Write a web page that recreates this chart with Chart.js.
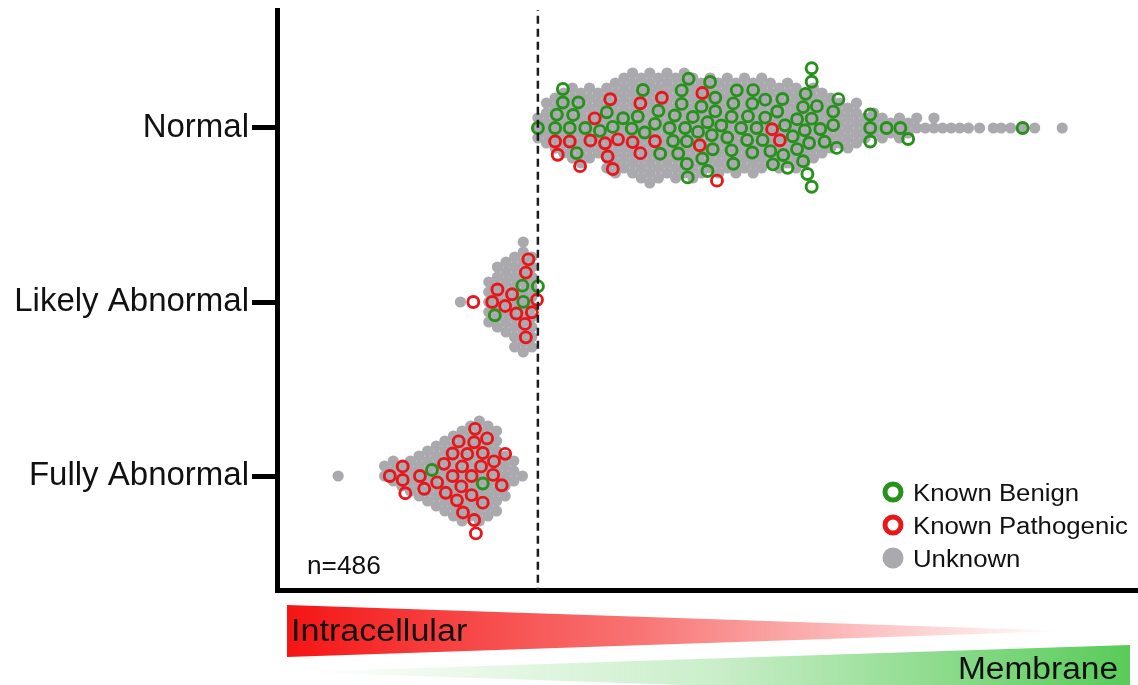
<!DOCTYPE html>
<html>
<head>
<meta charset="utf-8">
<script src="https://cdn.jsdelivr.net/npm/chart.js@4.4.1/dist/chart.umd.min.js"></script>
<style>
  html, body { margin: 0; padding: 0; background: #fff; }
</style>
</head>
<body>
<canvas id="chart" width="1138" height="685"></canvas>
<script>
const categories = ['Normal', 'Likely Abnormal', 'Fully Abnormal'];

// localisation score of each known variant (0 = intracellular, 100 = membrane)
const normalBenign = [30.3, 32.3, 32.5, 33.2, 33.2, 34.0, 34.4, 34.8, 35.0, 35.8, 37.5, 38.3, 39.0, 40.2,
  41.2, 41.9, 42.5, 42.7, 43.9, 44.3, 44.5, 45.6, 46.0, 46.2, 46.6, 47.0, 47.0, 47.4, 47.6, 47.6, 47.7,
  47.8, 48.3, 48.9, 49.3, 49.4, 50.0, 50.0, 50.3, 50.5, 50.6, 50.9, 50.9, 51.6, 52.3, 52.8, 52.8, 53.0,
  53.0, 53.4, 53.9, 54.6, 54.7, 55.2, 55.2, 55.3, 55.7, 56.4, 56.7, 56.7, 57.3, 57.6, 58.1, 58.7, 58.8,
  59.0, 59.3, 59.9, 60.4, 60.4, 61.1, 61.1, 61.3, 61.4, 61.6, 61.8, 62.1, 62.1, 62.1, 62.1, 62.7, 63.1,
  63.6, 64.6, 64.6, 65.0, 65.2, 68.9, 68.9, 68.9, 70.8, 72.4, 73.3, 86.6];
const normalPathogenic = [32.3, 32.6, 34.0, 35.2, 36.4, 36.9, 38.1, 38.4, 38.7, 39.0, 39.6, 41.3, 42.2,
  42.2, 43.9, 44.7, 49.1, 49.4, 51.1, 57.5, 58.4];
const likelyBenign = [25.3, 28.5, 28.6, 30.3];
const likelyPathogenic = [22.8, 25.0, 25.6, 26.5, 27.3, 27.8, 28.8, 28.9, 28.9, 29.2, 29.6, 30.2];
const fullyBenign = [18.0, 23.9];
const fullyPathogenic = [13.1, 14.6, 14.6, 14.9, 16.6, 17.1, 18.6, 19.4, 19.6, 20.4, 20.4, 20.9, 21.1,
  21.4, 21.5, 21.6, 22.1, 22.6, 22.6, 22.9, 22.9, 23.0, 23.1, 23.7, 23.9, 23.9, 24.4, 25.1, 25.2, 26.1, 26.5];

// unknown variants: number of variants per score bin, plus lone outliers
const binWidth = 1;
const normalUnknownStart = 30.3;
const normalUnknownCounts = [3, 5, 6, 7, 8, 8, 8, 7, 9, 10, 10, 11, 11, 12, 11, 11, 11, 11, 11, 10, 10, 10,
  10, 10, 10, 10, 10, 9, 9, 9, 9, 8, 8, 7, 6, 5, 5, 5, 3, 3, 3, 2, 3, 2, 2, 1, 2, 1, 1, 1, 1];
const normalUnknownTail = [81.6, 83.2, 84.1, 85.2, 86.6, 88.0, 91.2];
const likelyUnknownStart = 24.6;
const likelyUnknownCounts = [5, 7, 8, 10, 12, 10];
const likelyUnknownTail = [21.3];
const fullyUnknownStart = 12.5;
const fullyUnknownCounts = [2, 3, 3, 4, 5, 6, 7, 8, 9, 10, 10, 11, 10, 9, 5, 3, 1];
const fullyUnknownTail = [7.1];

const threshold = 30.3;
const sampleSize = 486;

const GREEN = '#26911b';
const RED = '#e8161b';
const GREY = '#a9a9ae';
const FONT = "'Liberation Sans', Arial, sans-serif";

const known = [
  {benign: normalBenign, pathogenic: normalPathogenic},
  {benign: likelyBenign, pathogenic: likelyPathogenic},
  {benign: fullyBenign, pathogenic: fullyPathogenic}
];
const unknown = [
  {start: normalUnknownStart, counts: normalUnknownCounts, tail: normalUnknownTail},
  {start: likelyUnknownStart, counts: likelyUnknownCounts, tail: likelyUnknownTail},
  {start: fullyUnknownStart, counts: fullyUnknownCounts, tail: fullyUnknownTail}
];

// greedy beeswarm: returns a vertical pixel offset for each x pixel
function swarm(xs, d) {
  const order = xs.map((x, i) => i).sort((a, b) => xs[a] - xs[b]);
  const placed = [];
  const out = [];
  order.forEach(i => {
    const x = xs[i];
    const near = placed.filter(p => Math.abs(p.x - x) < d);
    const cands = [0];
    near.forEach(p => {
      const h = Math.sqrt(d * d - (p.x - x) ** 2);
      cands.push(p.y + h, p.y - h);
    });
    cands.sort((a, b) => Math.abs(a) - Math.abs(b));
    const y = cands.find(c => near.every(p => (p.x - x) ** 2 + (p.y - c) ** 2 >= d * d - 0.01));
    placed.push({x, y});
    out[i] = y;
  });
  return out;
}

// stacked column of unknown dots, alternate columns shifted half a step
function columnOffsets(n, k, step) {
  if (n === 1) return [0];
  const offs = [];
  const half = k % 2 ? step / 2 : 0;
  for (let j = 0; offs.length < n; j++) {
    const dd = half + j * step;
    if (dd === 0) offs.push(0);
    else {
      offs.push(-dd);
      if (offs.length < n) offs.push(dd);
    }
  }
  return offs;
}

function buildPoints(chart) {
  const xs = chart ? chart.scales.x : null;
  const ys = chart ? chart.scales.y : null;
  const toY = (cat, off) => ys ? ys.getValueForPixel(ys.getPixelForValue(cat) + off) : cat;
  const benign = [], pathogenic = [], grey = [];
  known.forEach((k, cat) => {
    const all = k.benign.concat(k.pathogenic);
    const offs = xs ? swarm(all.map(v => xs.getPixelForValue(v)), 13.5) : all.map(() => 0);
    all.forEach((v, i) => {
      const p = {x: v, y: toY(cat, offs[i])};
      (i < k.benign.length ? benign : pathogenic).push(p);
    });
  });
  unknown.forEach((u, cat) => {
    u.counts.forEach((n, k) => {
      columnOffsets(n, k, 10).forEach(off => grey.push({x: u.start + k * binWidth, y: toY(cat, off)}));
    });
    u.tail.forEach(v => grey.push({x: v, y: cat}));
  });
  return {benign, pathogenic, grey};
}

const extras = {
  id: 'extras',
  afterDraw(chart) {
    const {ctx, chartArea: a} = chart;
    ctx.save();
    // gradient wedges under the axis
    const L = a.left, B = a.bottom;
    let g = ctx.createLinearGradient(L + 10, 0, L + 790, 0);
    g.addColorStop(0, 'rgba(245,20,20,1)');
    g.addColorStop(0.45, 'rgba(245,40,40,0.65)');
    g.addColorStop(1, 'rgba(245,60,60,0)');
    ctx.fillStyle = g;
    ctx.beginPath();
    ctx.moveTo(L + 10, B + 15);
    ctx.lineTo(L + 790, B + 41);
    ctx.lineTo(L + 10, B + 67);
    ctx.closePath();
    ctx.fill();

    g = ctx.createLinearGradient(L + 20, 0, a.right - 8, 0);
    g.addColorStop(0, 'rgba(80,200,80,0)');
    g.addColorStop(0.5, 'rgba(80,200,80,0.3)');
    g.addColorStop(1, 'rgba(80,200,80,0.95)');
    ctx.fillStyle = g;
    ctx.beginPath();
    ctx.moveTo(L + 20, B + 82);
    ctx.lineTo(a.right - 8, B + 55);
    ctx.lineTo(a.right - 8, B + 110);
    ctx.closePath();
    ctx.fill();

    const text = (s, x, y, size, align, stretch) => {
      ctx.save();
      ctx.translate(x, y);
      ctx.scale(stretch, 1);
      ctx.font = size + 'px ' + FONT;
      ctx.fillStyle = '#111';
      ctx.textAlign = align;
      ctx.textBaseline = 'alphabetic';
      ctx.fillText(s, 0, 0);
      ctx.restore();
    };
    text('Intracellular', L + 14, B + 51, 31, 'left', 1.1);
    text('Membrane', a.right - 20, B + 89, 31, 'right', 1.08);
    text('n=' + sampleSize, L + 30, B - 16, 25, 'left', 1.05);

    // legend
    const items = [
      {label: 'Known Benign', color: GREEN, ring: true},
      {label: 'Known Pathogenic', color: RED, ring: true},
      {label: 'Unknown', color: GREY, ring: false}
    ];
    items.forEach((it, i) => {
      const cx = a.right - 245, cy = B - 98 + i * 33;
      ctx.beginPath();
      if (it.ring) {
        ctx.arc(cx, cy, 8, 0, Math.PI * 2);
        ctx.lineWidth = 5;
        ctx.strokeStyle = it.color;
        ctx.stroke();
      } else {
        ctx.arc(cx, cy, 10.5, 0, Math.PI * 2);
        ctx.fillStyle = it.color;
        ctx.fill();
      }
      text(it.label, cx + 20, cy + 8.5, 23, 'left', 1.12);
    });
    ctx.restore();
  }
};

const pts = buildPoints(null);

const chart = new Chart(document.getElementById('chart'), {
  type: 'scatter',
  data: {
    datasets: [
      {
        label: 'threshold',
        data: [{x: threshold, y: -0.72}, {x: threshold, y: 2.7}],
        showLine: true,
        borderColor: '#1c1c1c',
        borderWidth: 2.5,
        borderDash: [8, 5],
        pointRadius: 0
      },
      {
        label: 'Known Benign',
        data: pts.benign,
        pointRadius: 5.5,
        borderWidth: 2.9,
        borderColor: GREEN,
        backgroundColor: 'rgba(0,0,0,0)'
      },
      {
        label: 'Known Pathogenic',
        data: pts.pathogenic,
        pointRadius: 5.5,
        borderWidth: 2.9,
        borderColor: RED,
        backgroundColor: 'rgba(0,0,0,0)'
      },
      {
        label: 'Unknown',
        data: pts.grey,
        pointRadius: 5.6,
        borderWidth: 0,
        backgroundColor: GREY
      }
    ]
  },
  options: {
    responsive: false,
    animation: false,
    events: [],
    layout: {autoPadding: false, padding: {top: 10, bottom: 95, left: 0, right: 0}},
    plugins: {legend: {display: false}, tooltip: {enabled: false}},
    scales: {
      x: {
        type: 'linear',
        min: 0,
        max: 100,
        ticks: {display: false},
        grid: {display: false, drawTicks: false},
        border: {display: true, color: '#000', width: 5}
      },
      y: {
        type: 'linear',
        reverse: true,
        min: -0.678,
        max: 2.655,
        afterBuildTicks: s => { s.ticks = categories.map((c, i) => ({value: i})); },
        afterFit: s => { s.width = 277; s.paddingTop = 0; s.paddingBottom = 0; },
        ticks: {
          callback: (v, i) => categories[i],
          font: {size: 33, family: FONT},
          color: '#111',
          padding: 3
        },
        grid: {display: true, drawOnChartArea: false, drawTicks: true, tickLength: 25, tickWidth: 5, tickColor: '#000'},
        border: {display: true, color: '#000', width: 5}
      }
    }
  },
  plugins: [extras]
});

const laid = buildPoints(chart);
chart.data.datasets[1].data = laid.benign;
chart.data.datasets[2].data = laid.pathogenic;
chart.data.datasets[3].data = laid.grey;
chart.update('none');
</script>
</body>
</html>
